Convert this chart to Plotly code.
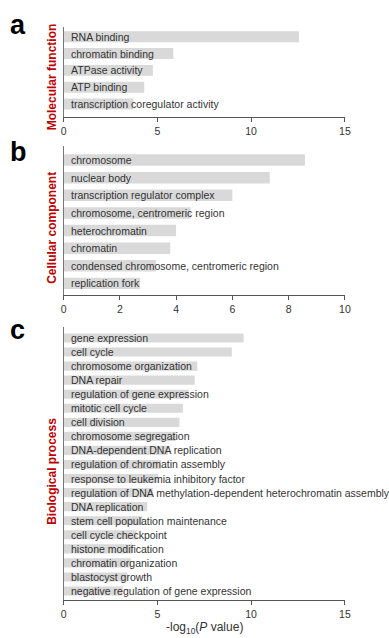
import plotly.graph_objects as go

W, H = 389, 638

# ---- data ----
mf_terms = ["RNA binding", "chromatin binding", "ATPase activity", "ATP binding",
            "transcription coregulator activity"]
mf_values = [12.55, 5.85, 4.76, 4.30, 3.73]

cc_terms = ["chromosome", "nuclear body", "transcription regulator complex",
            "chromosome, centromeric region", "heterochromatin", "chromatin",
            "condensed chromosome, centromeric region", "replication fork"]
cc_values = [8.58, 7.33, 6.00, 4.52, 4.00, 3.79, 3.28, 2.72]

bp_terms = ["gene expression", "cell cycle", "chromosome organization", "DNA repair",
            "regulation of gene expression", "mitotic cell cycle", "cell division",
            "chromosome segregation", "DNA-dependent DNA replication",
            "regulation of chromatin assembly", "response to leukemia inhibitory factor",
            "regulation of DNA methylation-dependent heterochromatin assembly",
            "DNA replication", "stem cell population maintenance", "cell cycle checkpoint",
            "histone modification", "chromatin organization", "blastocyst growth",
            "negative regulation of gene expression"]
bp_values = [9.60, 8.97, 7.13, 6.99, 6.67, 6.36, 6.18, 5.98, 5.56, 5.20, 5.05, 4.76,
             4.46, 4.20, 3.90, 3.68, 3.59, 3.41, 3.15]

panel_titles = ["Molecular function", "Cellular component", "Biological process"]
panel_letters = ["a", "b", "c"]
x_ranges = [[0, 15], [0, 10], [0, 15]]
x_dticks = [5, 2, 5]

# ---- layout geometry (pixels) ----
plot_x = (62, 350)
panel_px = [(27, 117, -0.58, 0.77), (146, 295, -0.80, 0.66), (327, 600, -0.78, 0.64)]
title_y_px = [76.5, 228, 471]
letter_y_px = [25, 152, 330]

FONT = "Liberation Sans, Arial, sans-serif"
BAR = "#d9d9d9"
TXT = "#333333"
AX = "#555555"
RED = "#c00000"

fig = go.Figure()
layout = dict(
    width=W, height=H, margin=dict(l=0, r=0, t=0, b=0),
    paper_bgcolor="white", plot_bgcolor="white", showlegend=False,
    bargap=0.35, font=dict(family=FONT, size=10.5, color=TXT),
)
annotations = []

datasets = [(mf_terms, mf_values), (cc_terms, cc_values), (bp_terms, bp_values)]
for i, (terms, vals) in enumerate(datasets):
    k = "" if i == 0 else str(i + 1)
    xa, ya = "x" + k, "y" + k
    fig.add_trace(go.Bar(x=vals, y=terms, orientation="h", marker_color=BAR,
                         marker_line_width=0, xaxis=xa, yaxis=ya, hoverinfo="skip"))
    top, bot, pad_top, pad_bot = panel_px[i]
    n = len(terms)
    layout["xaxis" + k] = dict(
        domain=[plot_x[0] / W, plot_x[1] / W], anchor=ya, range=x_ranges[i],
        dtick=x_dticks[i], tick0=0, showline=True, linecolor=AX, linewidth=1,
        ticks="outside", ticklen=4, tickcolor=AX, tickwidth=1, showgrid=False,
        zeroline=False, tickfont=dict(size=10.5, color=TXT, family=FONT),
    )
    layout["yaxis" + k] = dict(
        domain=[1 - bot / H, 1 - top / H], anchor=xa, type="category",
        categoryorder="array", categoryarray=terms,
        range=[n - 1 + pad_bot, pad_top], showline=True, linecolor="#777777",
        linewidth=1, showticklabels=False, ticks="", showgrid=False, zeroline=False,
    )
    for t in terms:
        annotations.append(dict(x=0, y=t, xref=xa, yref=ya, text=t, showarrow=False,
                                xanchor="left", yanchor="middle", xshift=5,
                                font=dict(size=10.5, color=TXT, family=FONT)))
    annotations.append(dict(x=50 / W, y=1 - title_y_px[i] / H, xref="paper", yref="paper",
                            text="<b>" + panel_titles[i] + "</b>", textangle=-90,
                            showarrow=False, xanchor="center", yanchor="middle",
                            font=dict(size=12, color=RED, family=FONT)))
    annotations.append(dict(x=5 / W, y=1 - letter_y_px[i] / H, xref="paper", yref="paper",
                            text="<b>" + panel_letters[i] + "</b>", showarrow=False,
                            xanchor="left", yanchor="middle",
                            font=dict(size=27, color="black", family=FONT)))

annotations.append(dict(x=206 / W, y=1 - 628 / H, xref="paper", yref="paper",
                        text="-log<sub>10</sub>(<i>P</i> value)", showarrow=False,
                        xanchor="center", yanchor="middle",
                        font=dict(size=12, color=TXT, family=FONT)))
layout["annotations"] = annotations
fig.update_layout(**layout)
fig.write_html("out.html", config={"displayModeBar": False},
               post_script="document.body.style.margin='0';document.body.style.overflow='hidden';")
